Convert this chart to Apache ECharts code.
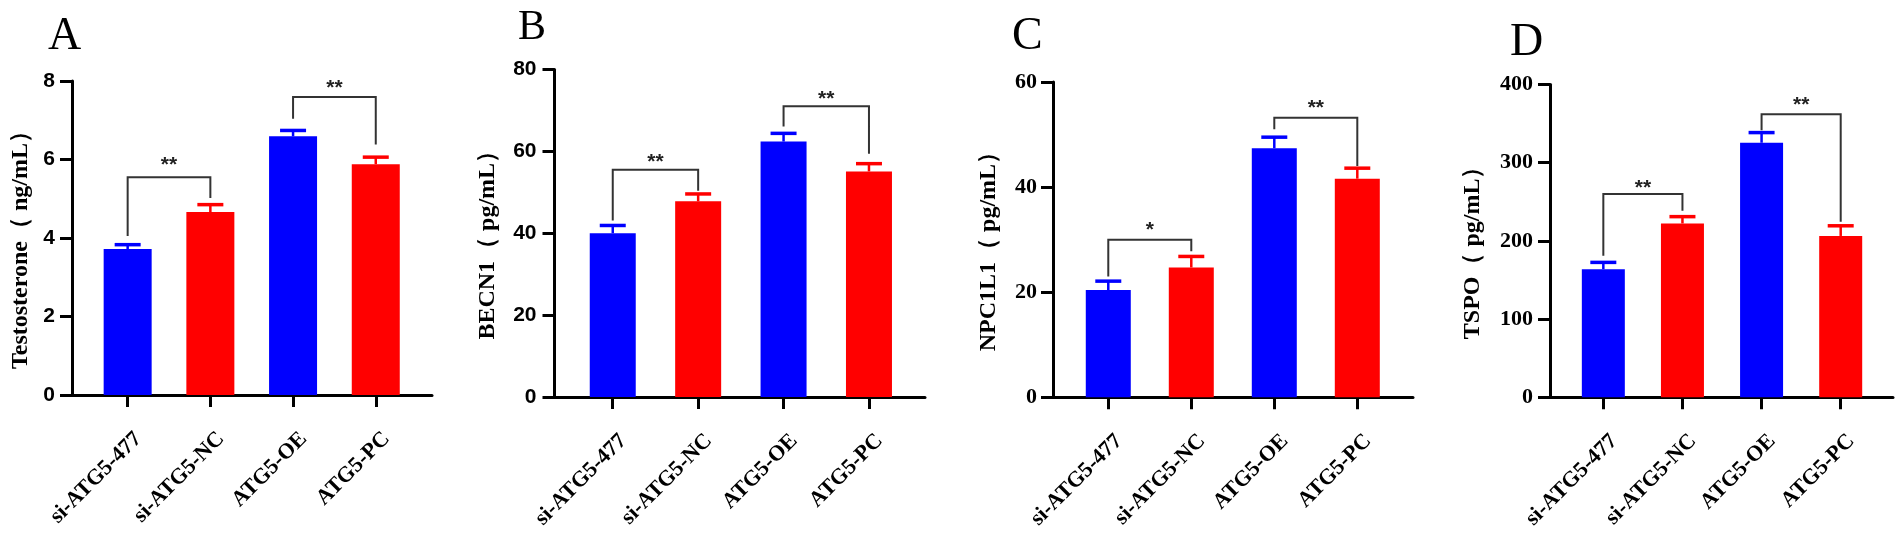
<!DOCTYPE html>
<html>
<head>
<meta charset="utf-8">
<script src="https://cdn.jsdelivr.net/npm/echarts@6/dist/echarts.min.js"></script>
<style>
  html, body { margin: 0; padding: 0; background: #ffffff; }
  #chart { width: 1901px; height: 535px; }
</style>
</head>
<body>
<div id="chart"></div>
<script>
// ---------------- data ----------------
const categories = ['si-ATG5-477', 'si-ATG5-NC', 'ATG5-OE', 'ATG5-PC'];

const testosteroneMean = [3.72, 4.66, 6.59, 5.88];
const testosteroneErr  = [0.11, 0.19, 0.15, 0.18];
const testosteroneTicks = [0, 8, 2];            // min, max, interval
const testosteroneBrackets = [[0, 1, 5.55, 4.05, 5.02, 5.99], [2, 3, 7.59, 7.04, 6.38, 7.94]];
const testosteroneStars = ['**', '**'];

const becn1Mean = [40.0, 47.8, 62.4, 55.1];
const becn1Err  = [1.9, 1.8, 2.0, 1.9];
const becn1Ticks = [0, 80, 20];
const becn1Brackets = [[0, 1, 55.5, 43.1, 50.4, 58.6], [2, 3, 71.0, 66.1, 59.4, 74.0]];
const becn1Stars = ['**', '**'];

const npc1l1Mean = [20.4, 24.7, 47.4, 41.6];
const npc1l1Err  = [1.7, 2.1, 2.1, 2.0];
const npc1l1Ticks = [0, 60, 20];
const npc1l1Brackets = [[0, 1, 30.0, 23.0, 27.8, 32.7], [2, 3, 53.2, 51.0, 44.0, 56.0]];
const npc1l1Stars = ['*', '**'];

const tspoMean = [163.8, 222.3, 325.5, 206.3];
const tspoErr  = [8.7, 8.7, 13.0, 13.0];
const tspoTicks = [0, 400, 100];
const tspoBrackets = [[0, 1, 260, 181, 238.4, 274], [2, 3, 361.9, 341.5, 224.5, 379.6]];
const tspoStars = ['**', '**'];

const yTitles = ['Testosterone（ ng/mL）', 'BECN1（ pg/mL）', 'NPC1L1（ pg/mL）', 'TSPO（ pg/mL）'];
const panelLetters = ['A', 'B', 'C', 'D'];

// ---------------- style / layout ----------------
const BLUE = '#0000ff', RED = '#ff0000';
const SERIF = '"Liberation Serif","Times New Roman",serif';
const SANS = '"Liberation Sans",Arial,sans-serif';

const layouts = [
  { left: 72,    top: 81,   width: 360,   height: 314,   xmin: -0.673, xmax: 3.68,  barW: 48, yFont: SANS,  ySize: 21, yMargin: 17, nameGap: 39, letter: [48, 37, 46] },
  { left: 554.5, top: 69.5, width: 370.5, height: 327.5, xmin: -0.682, xmax: 3.656, barW: 46, yFont: SANS,  ySize: 21, yMargin: 18, nameGap: 55, letter: [518, 28, 42] },
  { left: 1053,  top: 82,   width: 360,   height: 319.5, xmin: -0.666, xmax: 3.671, barW: 45, yFont: SERIF, ySize: 22, yMargin: 16, nameGap: 52, letter: [1012, 37, 46] },
  { left: 1550,  top: 84.5, width: 343,   height: 317.5, xmin: -0.674, xmax: 3.661, barW: 43, yFont: SERIF, ySize: 22, yMargin: 17, nameGap: 65, letter: [1510, 43, 46] }
];

const panelsData = [
  { mean: testosteroneMean, err: testosteroneErr, ticks: testosteroneTicks, brackets: testosteroneBrackets, stars: testosteroneStars },
  { mean: becn1Mean, err: becn1Err, ticks: becn1Ticks, brackets: becn1Brackets, stars: becn1Stars },
  { mean: npc1l1Mean, err: npc1l1Err, ticks: npc1l1Ticks, brackets: npc1l1Brackets, stars: npc1l1Stars },
  { mean: tspoMean, err: tspoErr, ticks: tspoTicks, brackets: tspoBrackets, stars: tspoStars }
];

const colorOf = i => (i % 2 === 0 ? BLUE : RED);
const catIdx = categories.map((c, i) => i);

const grid = [], xAxis = [], yAxis = [], series = [], graphic = [];

panelsData.forEach((pd, p) => {
  const L = layouts[p];
  grid.push({ left: L.left, top: L.top, width: L.width, height: L.height, containLabel: false });
  xAxis.push({
    gridIndex: p, type: 'value', min: L.xmin, max: L.xmax,
    splitLine: { show: false },
    axisLine: { show: true, onZero: false, lineStyle: { color: '#000', width: 3 } },
    axisTick: { show: true, customValues: catIdx, length: 12, inside: false, lineStyle: { color: '#000', width: 3 } },
    axisLabel: {
      show: true, customValues: catIdx, rotate: 45, margin: 30,
      align: 'right', verticalAlign: 'top', lineHeight: 30,
      fontFamily: SERIF, fontWeight: 'bold', fontSize: 22, color: '#000',
      formatter: v => categories[Math.round(v)]
    }
  });
  yAxis.push({
    gridIndex: p, type: 'value', min: pd.ticks[0], max: pd.ticks[1], interval: pd.ticks[2],
    splitLine: { show: false },
    axisLine: { show: true, onZero: false, lineStyle: { color: '#000', width: 3 } },
    axisTick: { show: true, length: 12, inside: false, lineStyle: { color: '#000', width: 3 } },
    axisLabel: { fontFamily: L.yFont, fontWeight: 'bold', fontSize: L.ySize, color: '#000', margin: L.yMargin },
    name: yTitles[p], nameLocation: 'middle', nameGap: L.nameGap,
    nameTextStyle: { fontFamily: SERIF, fontWeight: 'bold', fontSize: 24, color: '#000', padding: [0, 12, 0, 0] }
  });

  // bars
  series.push({
    type: 'bar', xAxisIndex: p, yAxisIndex: p, barWidth: L.barW,
    data: pd.mean.map((v, i) => ({ value: [i, v], itemStyle: { color: colorOf(i) } })),
    z: 2, silent: true, animation: false
  });

  // error bars (upper only, with cap)
  series.push({
    type: 'custom', xAxisIndex: p, yAxisIndex: p, z: 3, silent: true, animation: false,
    data: pd.mean.map((v, i) => [i, v, pd.err[i]]),
    renderItem: (params, api) => {
      const x = api.value(0), m = api.value(1), e = api.value(2);
      const p0 = api.coord([x, m]);
      const p1 = api.coord([x, m + e]);
      const c = colorOf(params.dataIndex);
      const half = 13;
      return {
        type: 'group', children: [
          { type: 'line', shape: { x1: p0[0], y1: p0[1], x2: p1[0], y2: p1[1] }, style: { stroke: c, lineWidth: 2.5 } },
          { type: 'line', shape: { x1: p1[0] - half, y1: p1[1], x2: p1[0] + half, y2: p1[1] }, style: { stroke: c, lineWidth: 3.5 } }
        ]
      };
    }
  });

  // significance brackets
  series.push({
    type: 'custom', xAxisIndex: p, yAxisIndex: p, z: 4, silent: true, animation: false,
    data: pd.brackets,
    renderItem: (params, api) => {
      const x1 = api.value(0), x2 = api.value(1), y = api.value(2), l1 = api.value(3), l2 = api.value(4), sy = api.value(5);
      const a = api.coord([x1, l1]), b = api.coord([x1, y]), c = api.coord([x2, y]), d = api.coord([x2, l2]);
      const s = api.coord([(x1 + x2) / 2, sy]);
      return {
        type: 'group', children: [
          { type: 'polyline', shape: { points: [a, b, c, d] }, style: { stroke: '#333', lineWidth: 2, fill: null } },
          { type: 'text', style: { text: pd.stars[params.dataIndex], x: s[0], y: s[1] + 5, align: 'center', verticalAlign: 'middle',
              font: 'bold 21px ' + SANS, fill: '#222' } }
        ]
      };
    }
  });

  graphic.push({
    type: 'text', x: L.letter[0], y: L.letter[1],
    style: { text: panelLetters[p], font: L.letter[2] + 'px ' + SERIF, fill: '#000', align: 'left', verticalAlign: 'middle' }
  });
});

const chart = echarts.init(document.getElementById('chart'), null, { renderer: 'canvas' });
chart.setOption({
  backgroundColor: '#ffffff',
  animation: false,
  grid, xAxis, yAxis, series, graphic
});
</script>
</body>
</html>
